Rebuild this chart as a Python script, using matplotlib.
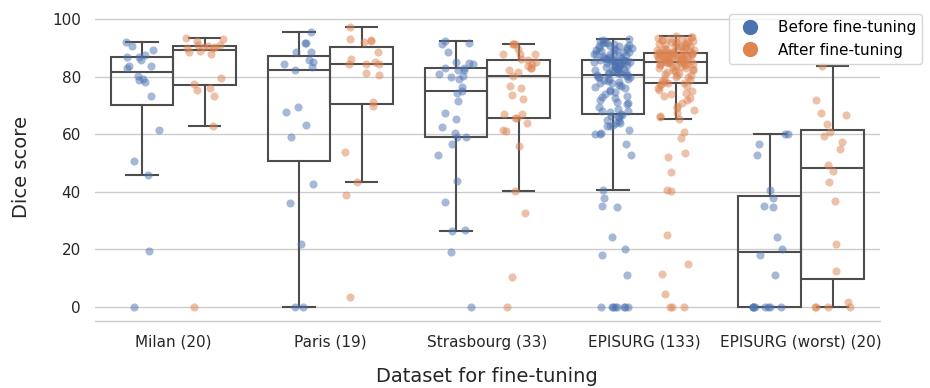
import numpy as np
import matplotlib
matplotlib.use("Agg")
import matplotlib.pyplot as plt
from matplotlib.lines import Line2D

categories = ["Milan (20)", "Paris (19)", "Strasbourg (33)", "EPISURG (133)", "EPISURG (worst) (20)"]
hue_labels = ["Before fine-tuning", "After fine-tuning"]
colors = ["#4C72B0", "#DD8452"]

milan_before = [92.0, 90.6, 89.3, 87.5, 86.8, 86.8, 85.7, 83.9, 83.7, 83.1, 80.4, 79.2, 79.0, 78.1,
                73.2, 61.7, 50.8, 45.9, 19.4, 0.0]
milan_after = [93.5, 93.2, 92.5, 91.2, 91.0, 90.6, 90.4, 90.3, 90.2, 90.1, 88.9, 88.7, 88.0, 79.6,
               77.4, 76.2, 75.3, 73.2, 62.9, 0.0]
paris_before = [95.7, 91.8, 91.8, 88.7, 88.5, 86.0, 85.1, 84.3, 83.3, 82.5, 69.7, 67.7, 63.2, 59.0,
                42.6, 36.1, 21.8, 0.0, 0.0]
paris_after = [97.3, 93.1, 92.7, 92.3, 92.1, 88.7, 86.1, 85.1, 84.5, 84.3, 84.3, 81.5, 80.7, 71.4,
               69.8, 53.8, 43.3, 38.9, 3.6]
strasbourg_before = [92.6, 91.8, 91.3, 88.5, 85.3, 84.8, 84.3, 83.2, 83.1, 82.5, 82.3, 81.0, 80.2,
                     80.0, 79.4, 76.5, 75.0, 74.5, 71.6, 67.4, 65.5, 62.7, 60.5, 59.2, 59.1, 56.8,
                     52.9, 43.8, 36.4, 26.7, 26.3, 19.3, 0.0]
strasbourg_after = [91.5, 91.5, 91.4, 89.6, 88.1, 88.1, 87.8, 86.3, 85.8, 85.3, 84.3, 83.8, 83.0,
                    83.0, 82.3, 81.6, 80.2, 77.0, 76.0, 73.8, 72.3, 67.0, 67.0, 65.6, 65.6, 63.8,
                    61.5, 61.1, 56.0, 40.3, 32.8, 10.5, 0.0]
episurg_before = [93.1, 92.8, 92.4, 92.1, 91.8, 91.6, 91.3, 91.2, 90.9, 90.8, 90.6, 90.3, 90.2, 89.9,
                  89.8, 89.6, 89.3, 89.2, 88.9, 88.8, 88.5, 88.4, 88.1, 87.9, 87.8, 87.5, 87.4, 87.1,
                  87.0, 86.7, 86.6, 86.3, 86.2, 86.0,
                  86.0, 85.9, 85.8, 85.7, 85.6, 85.4, 85.3, 85.2, 85.1, 84.9, 84.8, 84.6, 84.5, 84.3,
                  84.1, 84.0, 83.8, 83.6, 83.4, 83.3, 83.0, 82.9, 82.7, 82.4, 82.3, 82.1, 81.8, 81.7,
                  81.5, 81.2, 81.1, 80.9, 80.7,
                  80.6, 80.4, 80.1, 80.0, 79.8, 79.4, 79.2, 78.9, 78.7, 78.3, 78.0, 77.7, 77.2, 76.8,
                  76.5, 76.0, 75.4, 75.0, 74.7, 74.1, 73.4, 73.0, 72.6, 72.0, 71.4, 70.9, 70.4, 69.7,
                  69.0, 68.3, 68.2, 67.7, 67.2,
                  66.9, 66.5, 66.1, 65.9, 65.0, 64.6, 64.0, 64.0, 63.2, 62.8, 62.8, 61.7, 60.5,
                  60.2, 60.2, 56.7, 52.9, 40.6, 38.0, 35.2, 34.7, 24.2, 20.3, 18.1, 11.2,
                  0.0, 0.0, 0.0, 0.0, 0.0, 0.0, 0.0, 0.0]
episurg_after = [94.3, 94.0, 93.7, 93.5, 93.3, 93.1, 92.9, 92.7, 92.5, 92.3, 92.1, 92.0, 91.8, 91.6,
                 91.4, 91.3, 91.1, 90.9, 90.8, 90.6, 90.4, 90.3, 90.1, 90.0, 89.8, 89.6, 89.5, 89.3,
                 89.1, 89.0, 88.8, 88.6, 88.5, 88.4,
                 88.4, 88.3, 88.3, 88.2, 88.1, 88.0, 87.9, 87.8, 87.7, 87.6, 87.5, 87.4, 87.3, 87.2,
                 87.1, 87.0, 86.9, 86.8, 86.7, 86.6, 86.5, 86.4, 86.3, 86.2, 86.1, 86.0, 85.9, 85.8,
                 85.7, 85.6, 85.5, 85.4, 85.3,
                 85.2, 85.1, 85.0, 84.9, 84.8, 84.7, 84.6, 84.5, 84.4, 84.2, 84.0, 83.8, 83.6, 83.4,
                 83.2, 83.0, 82.8, 82.5, 82.3, 82.0, 81.7, 81.4, 81.1, 80.8, 80.5, 80.1, 79.8, 79.4,
                 79.0, 78.7, 78.3, 78.0, 77.7,
                 77.4, 77.1, 76.7, 76.2, 75.6, 75.0, 74.4, 74.1, 73.4, 72.6, 71.8, 70.9, 69.9, 69.1,
                 68.4, 67.4, 66.3, 65.9, 65.4,
                 60.8, 58.7, 53.6, 52.2, 46.9, 40.7, 40.5, 25.0, 15.0, 11.4, 4.5, 0.0, 0.0, 0.0]
worst_before = [60.2, 60.2, 56.7, 52.9, 40.6, 38.0, 35.2, 34.7, 24.2, 20.3, 18.1, 11.2,
                0.0, 0.0, 0.0, 0.0, 0.0, 0.0, 0.0, 0.0]
worst_after = [83.8, 72.0, 67.6, 66.8, 63.5, 60.8, 59.5, 57.4, 54.9, 49.5, 47.2, 43.4, 37.0, 21.9,
               12.6, 1.6, 0.0, 0.0, 0.0, 0.0]

before_sets = [milan_before, paris_before, strasbourg_before, episurg_before, worst_before]
after_sets = [milan_after, paris_after, strasbourg_after, episurg_after, worst_after]

line_color = "#4d4d4d"
rng = np.random.default_rng(3)

fig = plt.figure(figsize=(9.3, 3.88), dpi=100)
ax = fig.add_axes([0.102, 0.1727, 0.844, 0.7912])

for i in range(len(categories)):
    for h, vals in enumerate([before_sets[i], after_sets[i]]):
        pos = i - 0.2 if h == 0 else i + 0.2
        lp = dict(color=line_color, linewidth=1.5)
        ax.boxplot(vals, positions=[pos], widths=0.4, showfliers=False, whis=1.5,
                   patch_artist=True, manage_ticks=False,
                   boxprops=dict(facecolor="none", edgecolor=line_color, linewidth=1.5),
                   whiskerprops=lp, capprops=lp, medianprops=lp, zorder=2)
        jit = rng.uniform(-0.12, 0.12, len(vals))
        ax.scatter(pos + jit, vals, s=34, color=colors[h], alpha=0.5, linewidths=0, zorder=3)

ax.set_xlim(-0.5, 4.5)
ax.set_ylim(-4.85, 101.85)
ax.set_yticks([0, 20, 40, 60, 80, 100])
ax.set_xticks(range(len(categories)))
ax.set_xticklabels(categories)
ax.tick_params(axis="both", length=0, pad=10, labelsize=11, colors="#262626")
ax.grid(axis="y", color="#cccccc", linewidth=1)
ax.set_axisbelow(True)
for s in ["left", "top", "right"]:
    ax.spines[s].set_visible(False)
ax.spines["bottom"].set_color("#cccccc")
ax.spines["bottom"].set_linewidth(1)

ax.set_ylabel("Dice score", fontsize=14, labelpad=15, color="#262626")
ax.set_xlabel("Dataset for fine-tuning", fontsize=14, labelpad=12, color="#262626")

handles = [Line2D([], [], marker="o", linestyle="", markersize=10, color=c) for c in colors]
leg = ax.legend(handles, hue_labels, loc="upper right", bbox_to_anchor=(1.054, 1.0),
                borderaxespad=0, fontsize=11, frameon=True, handletextpad=0.8)
leg.get_frame().set_edgecolor("#cccccc")

fig.savefig("out.png", dpi=100)
